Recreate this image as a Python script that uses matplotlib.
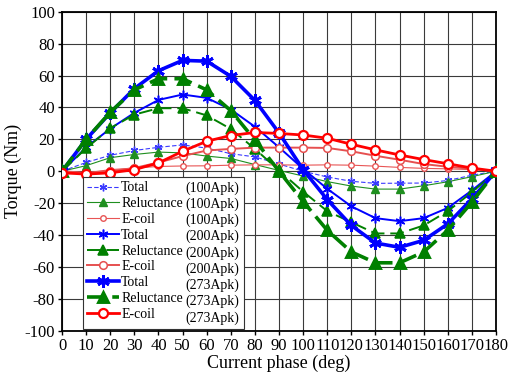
import matplotlib.pyplot as plt
from matplotlib.lines import Line2D

plt.rcParams["font.family"] = ["Liberation Serif", "DejaVu Serif"]
plt.rcParams["axes.unicode_minus"] = False

# ---------- data ----------
phase = [0, 10, 20, 30, 40, 50, 60, 70, 80, 90, 100, 110, 120, 130, 140, 150, 160, 170, 180]

total_100 = [0, 5.5, 10, 13, 15, 16.5, 14.5, 11, 9, 4.5, 0, -3.6, -6.3, -7.6, -7.5, -7.4, -5.8, -2.5, 0]
rel_100 = [0, 3.5, 8.5, 10.5, 12, 11.5, 9.5, 8, 4.2, 0.5, -3, -6.5, -9.3, -11.2, -11.2, -9.1, -6.6, -3.4, 0]
ecoil_100 = [0, -1, 1, 2, 3, 3.3, 3.4, 3.8, 4, 4, 3.8, 4, 3.8, 3.2, 2.4, 1.8, 1.5, 1, 0]

total_200 = [0, 15, 26.7, 36.6, 44.7, 48.1, 46, 38.7, 27.9, 15, 1.5, -11, -22, -29.4, -31.3, -29.4, -23, -12, 0]
rel_200 = [0, 14.4, 27, 35.5, 39.5, 39.5, 35, 26.5, 14, 0.5, -12.8, -25, -32, -39, -39, -34, -25, -13.2, 0]
ecoil_200 = [0, -1, 0, 2, 5.5, 9.5, 13, 14, 14.8, 14.8, 14.8, 14.6, 12.5, 9.7, 7.2, 4.5, 2.8, 1.5, 0]

total_273 = [0, 20, 36.6, 51.8, 63, 69.5, 69, 59.5, 44.4, 24, 1, -17.8, -34, -45, -47.7, -43.3, -33, -17.3, 0]
rel_273 = [0, 20, 37, 51, 58, 58, 51, 38, 19.5, 0, -19, -37, -50.6, -57.4, -57.4, -50.6, -37, -19.4, 0]
ecoil_273 = [-1, -1.8, -1, 1, 5.2, 12.5, 18.8, 22.4, 24.3, 23.7, 22.7, 20.7, 16.9, 13.4, 10.2, 7.3, 4.7, 2, 0]

currents = ["(100Apk)", "(200Apk)", "(273Apk)"]
names = ["Total", "Reluctance", "E-coil"]

star = (6, 2, 0)

fig = plt.figure(figsize=(5.17, 3.78), dpi=100)
ax = fig.add_axes([0.12, 0.125, 0.8394, 0.844])

# (series, color, linestyle, linewidth, marker, markersize, facecolor)
styles = [
    (total_100, "#3a3aff", (0, (4, 2)), 0.8, star, 5.5, None),
    (rel_100, "#1f8f1f", "-", 0.8, "^", 6, None),
    (ecoil_100, "#e85555", "-", 0.8, "o", 4, "white"),
    (total_200, "#0000ff", "-", 1.4, star, 7, None),
    (rel_200, "#008000", (0, (7, 3)), 1.4, "^", 6.5, None),
    (ecoil_200, "#e65050", "-", 1.4, "o", 5.5, "white"),
    (total_273, "#0000ff", "-", 2.6, star, 9, None),
    (rel_273, "#008000", (0, (5, 2)), 2.6, "^", 7.5, None),
    (ecoil_273, "#ff0000", "-", 2.0, "o", 6.5, "white"),
]

handles = []
for vals, col, ls, lw, mk, ms, fc in styles:
    kw = dict(color=col, linestyle=ls, linewidth=lw, marker=mk, markersize=ms,
              markeredgecolor=col, markeredgewidth=max(1.0, lw * 0.8))
    kw["markerfacecolor"] = fc if fc is not None else col
    ax.plot(phase, vals, zorder=3, **kw)
    handles.append(Line2D([], [], **kw))

ax.set_xlim(0, 180)
ax.set_ylim(-100, 100)
ax.set_xticks(range(0, 181, 10))
ax.set_yticks(range(-100, 101, 20))
ax.grid(True, color="#3a3a3a", linewidth=0.8)
ax.set_axisbelow(True)
for s in ax.spines.values():
    s.set_linewidth(1.3)
ax.tick_params(labelsize=12, direction="out", length=3, width=1, pad=2)
ax.set_xlabel("Current phase (deg)", fontsize=13, labelpad=1)
ax.set_ylabel("Torque (Nm)", fontsize=13, labelpad=2)

labels = [names[i % 3] for i in range(9)]
apk = [currents[i // 3] for i in range(9)]
blank = [Line2D([], [], linestyle="none") for _ in range(9)]

leg = ax.legend(handles + blank, labels + apk, ncol=2, loc="lower left",
                bbox_to_anchor=(0.048, 0.006), borderaxespad=0, fontsize=10,
                frameon=True, fancybox=False, edgecolor="#333333", framealpha=1,
                labelspacing=0.2, handlelength=2.3, handletextpad=0.15,
                columnspacing=-2.25, borderpad=0.3)
leg.get_frame().set_linewidth(0.8)

fig.savefig("out.png", dpi=100)
